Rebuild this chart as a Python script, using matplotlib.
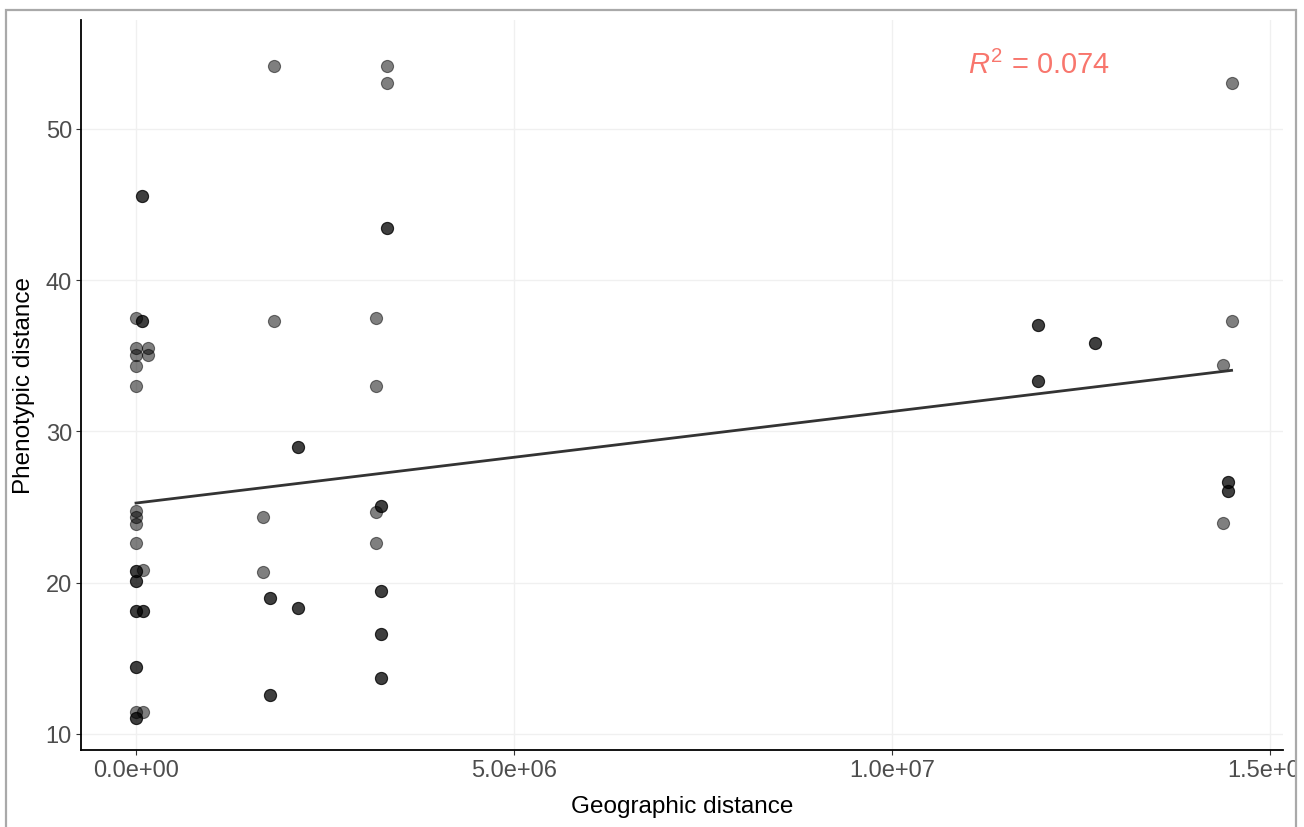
import numpy as np
import matplotlib
matplotlib.use("Agg")
import matplotlib.pyplot as plt
from matplotlib.patches import Rectangle
from matplotlib.transforms import Bbox, TransformedBbox

plt.rcParams['font.family'] = ['Liberation Sans', 'DejaVu Sans']
plt.rcParams['mathtext.fontset'] = 'custom'
plt.rcParams['mathtext.rm'] = 'Liberation Sans'
plt.rcParams['mathtext.it'] = 'Liberation Sans:italic'

# Geographic distance (m), phenotypic distance, and how many pairs sit on the same spot
geo_dist = np.array([
    1.82e6, 3.32e6, 3.32e6, 0.08e6, 3.32e6, 0.0, 0.08e6, 1.82e6, 3.17e6, 0.0,
    0.16e6, 0.0, 0.16e6, 0.0, 0.0, 3.17e6, 2.14e6, 0.0, 0.0, 0.0,
    1.68e6, 3.24e6, 3.17e6, 0.0, 3.17e6, 0.0, 0.09e6, 0.0, 1.68e6, 3.24e6,
    1.77e6, 2.14e6, 0.0, 0.09e6, 3.24e6, 0.0, 3.24e6, 1.77e6, 0.0, 0.09e6,
    0.0, 14.49e6, 11.93e6, 14.49e6, 12.69e6, 14.37e6, 11.93e6, 14.44e6, 14.44e6, 14.37e6,
])
pheno_dist = np.array([
    54.13, 54.13, 53.05, 45.56, 43.44, 37.5, 37.32, 37.32, 37.5, 35.49,
    35.49, 35.05, 35.05, 34.34, 33.0, 33.0, 28.95, 24.76, 24.32, 23.88,
    24.36, 25.09, 24.65, 22.64, 22.64, 20.77, 20.82, 20.11, 20.73, 19.45,
    19.01, 18.35, 18.15, 18.15, 16.59, 14.41, 13.72, 12.56, 11.47, 11.47,
    11.06, 53.05, 37.0, 37.3, 35.86, 34.39, 33.35, 26.64, 26.08, 23.93,
])
n_pairs = np.array([
    1, 1, 1, 2, 2, 1, 2, 1, 1, 1,
    1, 1, 1, 1, 1, 1, 2, 1, 1, 1,
    1, 2, 1, 1, 1, 2, 1, 2, 1, 2,
    2, 2, 2, 2, 2, 2, 2, 2, 1, 1,
    2, 1, 2, 1, 2, 1, 2, 2, 2, 1,
])
r2_label = r'$R^2$ = 0.074'

x_all = np.repeat(geo_dist, n_pairs)
y_all = np.repeat(pheno_dist, n_pairs)

fig = plt.figure(figsize=(13.04, 8.28), dpi=100)
ax = fig.add_axes([81 / 1304, 1 - 751 / 828, (1283 - 81) / 1304, (751 - 21) / 828])

ax.scatter(x_all, y_all, s=76, color='black', alpha=0.5, linewidths=0.8,
           edgecolors='black', zorder=3)

# linear fit, like geom_smooth(method = "lm", se = FALSE)
slope, intercept = np.polyfit(x_all, y_all, 1)
xs = np.linspace(x_all.min(), x_all.max(), 50)
ax.plot(xs, intercept + slope * xs, color='#333333', lw=2, zorder=4)

ax.text(11.94e6, 54.25, r2_label, color='#F8766D', fontsize=21,
        ha='center', va='center')

ax.set_xlim(-0.7275e6, 15.17e6)
ax.set_ylim(8.94, 57.19)
ax.set_xticks([0, 5e6, 1e7, 1.5e7])
ax.set_xticklabels(['0.0e+00', '5.0e+06', '1.0e+07', '1.5e+07'])
ax.set_yticks([10, 20, 30, 40, 50])

ax.grid(True, color='#f0f0f0', lw=1)
ax.set_axisbelow(True)
for side in ['top', 'right']:
    ax.spines[side].set_visible(False)
for side in ['left', 'bottom']:
    ax.spines[side].set_linewidth(1.3)
    ax.spines[side].set_color('black')
ax.tick_params(length=3.5, width=0.8, color='#333333', labelcolor='#4d4d4d',
               labelsize=17, pad=3)

ax.set_xlabel('Geographic distance', fontsize=17.5, labelpad=10)
ax.set_ylabel('Phenotypic distance', fontsize=17.5, labelpad=8)

# outer gray frame, the last x label is cut by it
fig.patches.append(Rectangle((6 / 1304, -0.1), 1290 / 1304, 1.1 - 11 / 828,
                             transform=fig.transFigure, fill=False,
                             edgecolor='#a9a9a9', lw=1.6))
clip = TransformedBbox(Bbox([[0, 0], [1295 / 1304, 1]]), fig.transFigure)
for lbl in ax.get_xticklabels():
    lbl.set_clip_box(clip)
    lbl.set_clip_on(True)

fig.savefig('out.png', dpi=100)
